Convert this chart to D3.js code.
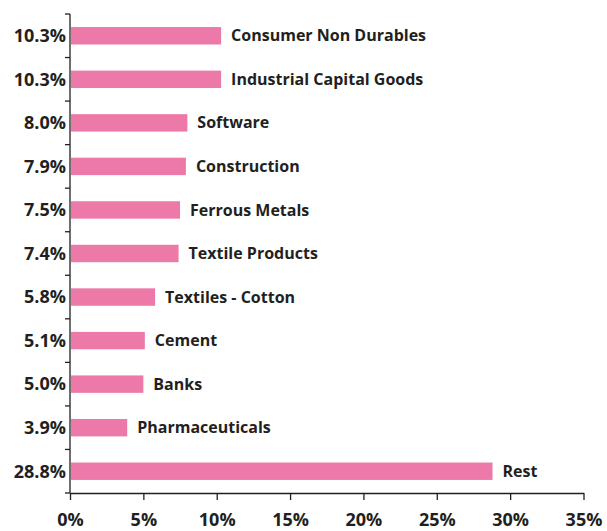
<!DOCTYPE html>
<html>
<head>
<meta charset="utf-8">
<script src="https://cdn.jsdelivr.net/npm/d3@7"></script>
<style>
  body { margin: 0; background: #fff; }
  svg text { font-family: "Open Sans", "DejaVu Sans", sans-serif; font-weight: bold; fill: #231f20; }
  .axis path, .axis line { stroke: #231f20; stroke-width: 1.3; }
</style>
</head>
<body>
<svg id="chart" width="607" height="531"></svg>
<script>
// sector allocation, top to bottom
const sectors = [
  "Consumer Non Durables", "Industrial Capital Goods", "Software", "Construction",
  "Ferrous Metals", "Textile Products", "Textiles - Cotton", "Cement",
  "Banks", "Pharmaceuticals", "Rest"
];
const weights = [10.3, 10.3, 8.0, 7.9, 7.5, 7.4, 5.8, 5.1, 5.0, 3.9, 28.8];
const xTicks = [0, 5, 10, 15, 20, 25, 30, 35];

const BAR_COLOR = "#ec79a8";

const margin = { top: 14, right: 24, bottom: 38, left: 70 },
    width = 607 - margin.left - margin.right,
    height = 531 - margin.top - margin.bottom;

const svg = d3.select("#chart");
const g = svg.append("g")
    .attr("transform", `translate(${margin.left},${margin.top})`);

const x = d3.scaleLinear().domain([0, 35]).range([0, 513.5]);
const y = d3.scaleBand().domain(sectors).range([0, height]).paddingInner(0.6).paddingOuter(0.3);

// x axis
const xAxis = g.append("g")
    .attr("class", "axis")
    .attr("transform", `translate(0,${height})`)
    .call(d3.axisBottom(x).tickValues(xTicks).tickFormat(d => d + "%").tickSize(7).tickSizeOuter(0));
xAxis.selectAll("text")
    .attr("dy", 0)
    .attr("y", 33)
    .style("font-size", "18px");

// y axis: ticks at category boundaries
const step = y.step();
const boundaries = d3.range(sectors.length + 1).map(i => i * step);
const yAxis = g.append("g").attr("class", "axis");
yAxis.append("line")
    .attr("x1", 0).attr("x2", 0)
    .attr("y1", 0).attr("y2", height);
yAxis.selectAll(".btick")
    .data(boundaries)
    .join("line")
    .attr("class", "btick")
    .attr("x1", -5).attr("x2", 0)
    .attr("y1", d => d).attr("y2", d => d);

// value labels on the left
g.selectAll(".val")
    .data(weights)
    .join("text")
    .attr("class", "val")
    .attr("x", -4)
    .attr("y", (d, i) => y(sectors[i]) + y.bandwidth() / 2)
    .attr("dy", "0.35em")
    .attr("text-anchor", "end")
    .style("font-size", "18px")
    .text(d => d.toFixed(1) + "%");

// bars
g.selectAll(".bar")
    .data(weights)
    .join("rect")
    .attr("class", "bar")
    .attr("x", 1)
    .attr("y", (d, i) => y(sectors[i]))
    .attr("width", d => x(d) - 1)
    .attr("height", y.bandwidth())
    .attr("fill", BAR_COLOR);

// sector names after the bars
g.selectAll(".name")
    .data(weights)
    .join("text")
    .attr("class", "name")
    .attr("x", d => x(d) + 10)
    .attr("y", (d, i) => y(sectors[i]) + y.bandwidth() / 2)
    .attr("dy", "0.35em")
    .style("font-size", "16px")
    .text((d, i) => sectors[i]);
</script>
</body>
</html>
